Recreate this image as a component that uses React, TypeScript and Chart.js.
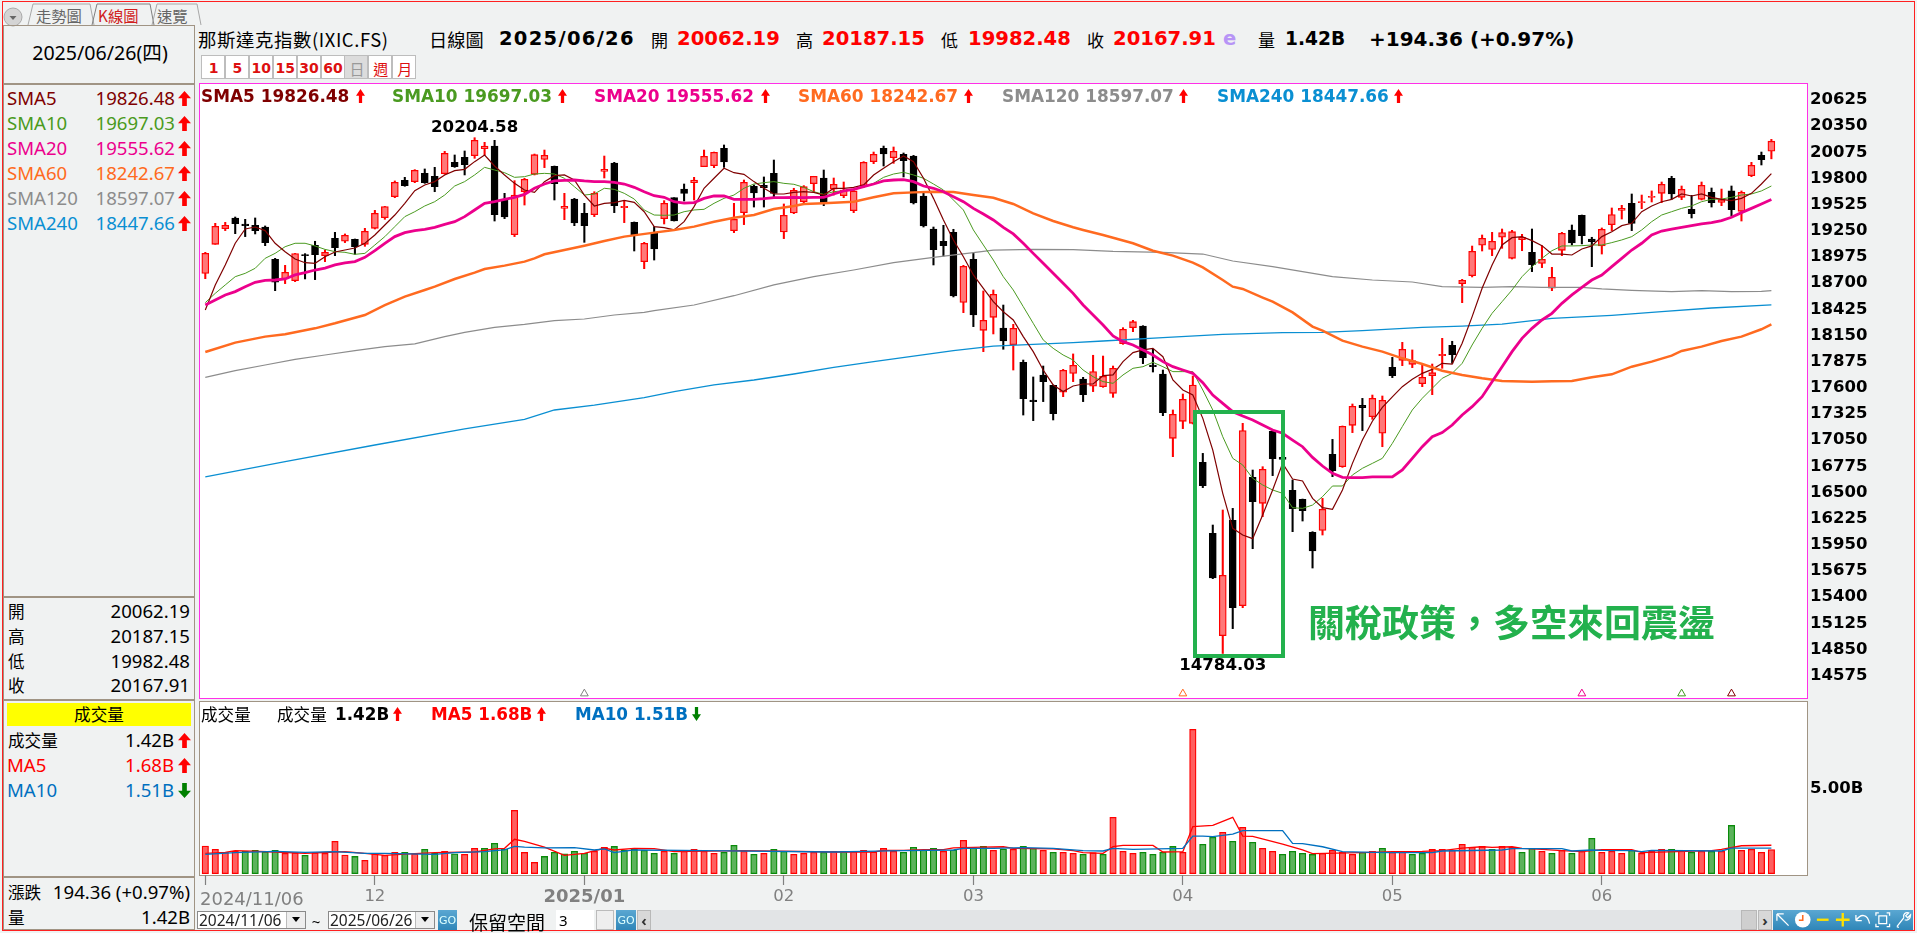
import { useEffect, useRef } from "react";
import { Chart, registerables } from "chart.js";
import type { CSSProperties, ReactNode } from "react";

Chart.register(...registerables);

// daily candles, 2024/11/06 .. 2025/06/26
const candleOpen = [
  18779, 19084, 19249, 19361, 19298, 19284, 19266, 18926, 18720, 18702,
  18975, 19074, 18965, 19147, 19116, 19137, 19084, 19252, 19364, 19585,
  19757, 19743, 19830, 19799, 19827, 19946, 19998, 20016, 20089, 20117,
  19550, 19186, 19637, 19820, 19977, 19904, 19462, 19560, 19410, 19396,
  19851, 19939, 19469, 19315, 18902, 19210, 19354, 19574, 19665, 19732,
  19900, 19911, 20093, 19228, 19417, 19694, 19704, 19830, 19214, 19413,
  19532, 19722, 19781, 19665, 19595, 19438, 19701, 19953, 20093, 19995,
  20030, 20012, 19592, 19245, 19116, 19210, 18474, 18926, 18180, 18317,
  18205, 18030, 17844, 17448, 17711, 17602, 17529, 17728, 17669, 17592,
  17588, 17518, 18040, 18208, 18226, 17816, 17721, 17045, 17224, 17203,
  16793, 16047, 14971, 16183, 15286, 16635, 16362, 17119, 16845, 16498,
  16404, 16057, 16078, 16877, 16747, 17182, 17392, 17273, 17098, 17791,
  17865, 17823, 17620, 17704, 17914, 18023, 18671, 18755, 19074, 19031,
  19158, 18937, 19133, 19000, 18884, 18622, 19021, 19235, 19389, 19140,
  19067, 19291, 19441, 19515, 19522, 19578, 19620, 19778, 19578, 19452,
  19557, 19630, 19525, 19645, 19431, 19806, 20019, 20062.19,
];
const candleHigh = [
  19000, 19305, 19315, 19371, 19347, 19361, 19277, 18937, 18863, 18989,
  18986, 19116, 19024, 19210, 19193, 19140, 19252, 19441, 19483, 19750,
  19788, 19869, 19876, 19893, 20061, 20023, 20065, 20204.58, 20156, 20177,
  19620, 19753, 19778, 20033, 20075, 19907, 19620, 19567, 19515, 19637,
  20012, 19946, 19543, 19319, 19105, 19270, 19543, 19574, 19718, 19788,
  20075, 20054, 20128, 19515, 19760, 19708, 19792, 19970, 19508, 19673,
  19701, 19799, 19865, 19781, 19739, 19655, 19953, 20054, 20117, 20107,
  20044, 20019, 19620, 19266, 19284, 19242, 18863, 18989, 18594, 18604,
  18446, 18243, 17868, 17690, 17805, 17606, 17770, 17932, 17686, 17918,
  17910, 17805, 18208, 18285, 18229, 17981, 17763, 17343, 17511, 17700,
  16887, 16134, 16292, 16309, 17203, 16712, 16747, 17126, 16849, 16607,
  16407, 16064, 16414, 17034, 17175, 17406, 17465, 17500, 17490, 17896,
  18054, 17974, 17812, 17826, 18096, 18065, 18716, 19066, 19182, 19210,
  19245, 19231, 19189, 19245, 19070, 18842, 19210, 19287, 19392, 19158,
  19256, 19466, 19494, 19613, 19602, 19645, 19739, 19799, 19697, 19599,
  19739, 19676, 19665, 19697, 19645, 19946, 20054, 20187.15,
];
const candleLow = [
  18723, 19084, 19228, 19196, 19165, 19193, 19070, 18597, 18671, 18692,
  18720, 18713, 18902, 18965, 19102, 18979, 19063, 19245, 19347, 19574,
  19694, 19732, 19725, 19637, 19820, 19893, 19813, 19988, 20023, 19329,
  19354, 19165, 19497, 19813, 19890, 19550, 19343, 19280, 19105, 19375,
  19781, 19417, 19312, 19014, 18828, 18919, 19298, 19329, 19539, 19550,
  19900, 19890, 19893, 19207, 19291, 19476, 19476, 19567, 19144, 19406,
  19508, 19637, 19490, 19602, 19574, 19417, 19683, 19932, 19907, 19935,
  19792, 19508, 19266, 18867, 18961, 18531, 18366, 18219, 17956, 18142,
  17981, 17763, 17290, 17231, 17431, 17238, 17483, 17641, 17431, 17536,
  17581, 17476, 18033, 18166, 17830, 17742, 17283, 16852, 17147, 17196,
  16527, 15570, 14784.03, 15045, 15265, 15885, 16222, 16653, 16817, 16064,
  16176, 15682, 16029, 16642, 16740, 17105, 17126, 17245, 16957, 17683,
  17809, 17788, 17588, 17504, 17781, 17833, 18471, 18741, 19014, 18965,
  19042, 18930, 19017, 18797, 18839, 18597, 18965, 19077, 19088, 18849,
  18982, 19228, 19350, 19228, 19459, 19529, 19522, 19557, 19553, 19361,
  19550, 19476, 19490, 19382, 19329, 19795, 19918, 19982.48,
];
const candleClose = [
  18989, 19273, 19284, 19301, 19280, 19228, 19102, 18685, 18790, 18986,
  18965, 18975, 19000, 19049, 19179, 19059, 19221, 19410, 19480, 19736,
  19701, 19862, 19732, 19690, 20040, 19900, 19921, 20177, 20117, 19396,
  19371, 19602, 19767, 20026, 20019, 19722, 19483, 19308, 19280, 19620,
  19872, 19490, 19483, 19175, 19095, 19035, 19515, 19329, 19620, 19760,
  20009, 20051, 19949, 19347, 19736, 19623, 19680, 19620, 19389, 19651,
  19690, 19799, 19522, 19715, 19655, 19645, 19946, 20030, 20033, 20061,
  19963, 19518, 19277, 19028, 19070, 18541, 18853, 18341, 18285, 18559,
  18068, 18201, 17462, 17431, 17641, 17304, 17760, 17812, 17504, 17746,
  17697, 17781, 18191, 18271, 17893, 17798, 17315, 17297, 17455, 17605,
  16548, 15577, 15605, 15265, 17126, 16379, 16719, 16831, 16824, 16306,
  16285, 15861, 16299, 16705, 17171, 17381, 17367, 17465, 17444, 17704,
  17981, 17861, 17686, 17735, 17928, 17924, 18706, 19010, 19147, 19116,
  19207, 19217, 19158, 18870, 18926, 18737, 19200, 19098, 19175, 19112,
  19242, 19396, 19462, 19305, 19532, 19588, 19715, 19613, 19662, 19406,
  19704, 19522, 19553, 19448, 19630, 19914, 19974, 20167.91,
];

const sma5 = [
  18394, 18657, 18867, 19095, 19245, 19266, 19228, 19095, 19007, 18930,
  18891, 18884, 18954, 19003, 19024, 19045, 19095, 19182, 19287, 19392,
  19515, 19648, 19708, 19743, 19813, 19858, 19872, 19953, 20023, 19907,
  19813, 19725, 19655, 19630, 19743, 19806, 19813, 19760, 19602, 19487,
  19515, 19522, 19546, 19525, 19427, 19270, 19259, 19235, 19322, 19480,
  19673, 19778, 19883, 19837, 19820, 19743, 19673, 19613, 19613, 19630,
  19637, 19630, 19602, 19673, 19673, 19683, 19708, 19813, 19883, 19953,
  20012, 19953, 19778, 19567, 19340, 19130, 18954, 18762, 18622, 18481,
  18376, 18289, 18114, 17956, 17763, 17606, 17536, 17595, 17616, 17616,
  17704, 17711, 17851, 17946, 17974, 17991, 17903, 17658, 17553, 17501,
  17255, 16922, 16467, 16099, 16029, 15991, 16239, 16502, 16782, 16618,
  16597, 16414, 16316, 16299, 16502, 16782, 17027, 17225, 17370, 17480,
  17588, 17665, 17728, 17770, 17833, 17826, 18044, 18324, 18622, 18867,
  19077, 19154, 19165, 19123, 19070, 18982, 18982, 18972, 19035, 19067,
  19165, 19217, 19280, 19305, 19427, 19487, 19532, 19557, 19613, 19592,
  19613, 19578, 19557, 19543, 19567, 19620, 19718, 19826.48,
];
const sma10 = [
  18471, 18569, 18657, 18744, 18779, 18832, 18937, 18989, 19059, 19095,
  19095, 19067, 19031, 19007, 19000, 18979, 18989, 19077, 19165, 19270,
  19375, 19427, 19487, 19532, 19602, 19697, 19743, 19813, 19893, 19865,
  19837, 19788, 19795, 19823, 19830, 19823, 19778, 19690, 19602, 19613,
  19673, 19662, 19620, 19560, 19445, 19392, 19389, 19392, 19427, 19445,
  19452, 19515, 19567, 19602, 19673, 19718, 19732, 19743, 19725, 19715,
  19683, 19637, 19609, 19637, 19648, 19655, 19690, 19725, 19788, 19823,
  19841, 19813, 19778, 19718, 19655, 19550, 19445, 19235, 19077, 18919,
  18744, 18604, 18429, 18254, 18079, 17991, 17921, 17868, 17763, 17693,
  17641, 17623, 17711, 17781, 17798, 17844, 17798, 17746, 17746, 17746,
  17553, 17343, 17062, 16835, 16765, 16625, 16555, 16502, 16467, 16316,
  16309, 16344, 16432, 16544, 16544, 16660, 16730, 16782, 16835, 16992,
  17168, 17343, 17466, 17571, 17676, 17728, 17833, 18026, 18201, 18359,
  18481, 18604, 18744, 18849, 18937, 19017, 19067, 19067, 19070, 19077,
  19077, 19102, 19130, 19165, 19235, 19322, 19392, 19427, 19462, 19487,
  19532, 19557, 19560, 19578, 19602, 19613, 19645, 19697.03,
];
const sma20 = [
  18446, 18499, 18552, 18587, 18639, 18685, 18706, 18709, 18720, 18762,
  18786, 18814, 18835, 18867, 18888, 18902, 18947, 19017, 19095, 19165,
  19207, 19228, 19242, 19263, 19294, 19322, 19375, 19445, 19515, 19532,
  19557, 19578, 19609, 19673, 19718, 19750, 19757, 19760, 19750, 19743,
  19743, 19736, 19718, 19683, 19637, 19595, 19578, 19532, 19518, 19522,
  19567, 19592, 19592, 19557, 19557, 19557, 19564, 19574, 19574, 19578,
  19574, 19578, 19578, 19613, 19645, 19662, 19690, 19718, 19750, 19760,
  19764, 19743, 19697, 19673, 19637, 19585, 19532, 19462, 19403, 19340,
  19263, 19193, 19095, 18989, 18884, 18779, 18674, 18569, 18446, 18341,
  18236, 18121, 18061, 18026, 17974, 17921, 17851, 17798, 17763, 17728,
  17630, 17500, 17413, 17325, 17280, 17238, 17185, 17133, 17098, 17027,
  16957, 16845, 16754, 16677, 16635, 16632, 16632, 16639, 16639, 16639,
  16712, 16835, 16957, 17062, 17105, 17185, 17290, 17378, 17483, 17640,
  17798, 17956, 18096, 18201, 18289, 18359, 18464, 18552, 18632, 18709,
  18762, 18849, 18937, 19024, 19095, 19182, 19224, 19245, 19263, 19280,
  19298, 19312, 19333, 19368, 19417, 19462, 19508, 19555.62,
];

// the slow averages are smooth, so they are read at every few days only
const sma60Days = [
  0, 3, 6, 8, 11, 13, 16, 18, 20, 22, 23, 25, 27, 28, 30, 32, 33, 34, 36, 38, 40, 42,
  45, 47, 49, 51, 53, 55, 57, 59, 60, 62, 64, 65, 67, 69, 71, 73, 75, 77, 79, 81, 83, 85, 87,
  88, 90, 93, 95, 97, 99, 100, 102, 103, 104, 106, 107, 109, 111, 112, 114, 116, 118, 120, 122, 124, 126, 128,
  130, 133, 135, 137, 139, 141, 143, 145, 147, 148, 150, 152, 154, 156, 157,
];
const sma60 = [
  17952, 18051, 18114, 18138, 18201, 18254, 18341, 18446, 18534, 18604, 18639, 18720, 18786, 18825, 18860, 18902, 18937, 18979, 19024, 19070, 19119, 19165,
  19207, 19235, 19270, 19322, 19364, 19392, 19455, 19487, 19508, 19515, 19525, 19532, 19578, 19620, 19630, 19637, 19634, 19602, 19574, 19508, 19410, 19329, 19263,
  19235, 19182, 19095, 19017, 18965, 18891, 18842, 18709, 18639, 18615, 18524, 18481, 18369, 18219, 18177, 18072, 18009, 17956, 17886, 17826, 17756, 17711, 17676,
  17648, 17641, 17644, 17648, 17686, 17718, 17798, 17851, 17914, 17963, 18009, 18068, 18114, 18191, 18242.67,
];
const sma120Days = [
  0, 3, 6, 9, 12, 15, 18, 21, 24, 26, 29, 32, 35, 38, 41, 44,
  45, 49, 53, 57, 61, 65, 69, 73, 77, 79, 83, 87,
  91, 96, 100, 103, 107, 110, 113, 117, 121, 124, 128,
  131, 134, 138, 140, 143, 147, 150, 153, 156, 157,
];
const sma120 = [
  17686, 17756, 17816, 17875, 17921, 17966, 18009, 18037, 18114, 18159, 18212, 18243, 18282, 18299, 18341, 18369,
  18387, 18446, 18544, 18657, 18744, 18814, 18891, 18947, 18996, 19024, 19031, 19028,
  19010, 19000, 18982, 18909, 18849, 18797, 18744, 18709, 18688, 18639, 18632,
  18639, 18632, 18632, 18615, 18601, 18587, 18597, 18587, 18590, 18597.07,
];
const sma240Days = [
  0, 8, 17, 26, 32, 35, 39, 44,
  47, 51, 55, 59, 63, 67, 71, 75, 79, 83, 87,
  90, 96, 102, 108, 112, 116, 122, 126, 130,
  135, 141, 146, 151, 157,
];
const sma240 = [
  16641, 16800, 16975, 17145, 17245, 17343, 17395, 17473,
  17536, 17606, 17658, 17721, 17791, 17851, 17910, 17966, 18015, 18033, 18051,
  18068, 18103, 18138, 18155, 18159, 18177, 18212, 18225, 18245,
  18306, 18338, 18376, 18415, 18447.66,
];

const volume = [
  1.63, 1.44, 1.26, 1.32, 1.32, 1.38, 1.30, 1.38, 1.20, 1.24,
  1.08, 1.24, 1.20, 1.91, 1.10, 1.02, 0.79, 1.18, 1.08, 1.26,
  1.26, 1.18, 1.44, 1.20, 1.32, 1.18, 1.14, 1.50, 1.50, 1.79,
  1.46, 3.74, 1.26, 0.67, 1.02, 1.26, 1.18, 1.32, 1.20, 1.32,
  1.56, 1.61, 1.40, 1.44, 1.38, 1.20, 1.32, 1.20, 1.32, 1.44,
  1.32, 1.20, 1.26, 1.67, 1.32, 1.14, 1.20, 1.44, 1.32, 1.14,
  1.20, 1.26, 1.26, 1.32, 1.32, 1.32, 1.38, 1.28, 1.50, 1.32,
  1.26, 1.56, 1.40, 1.50, 1.32, 1.40, 1.97, 1.54, 1.61, 1.38,
  1.46, 1.44, 1.61, 1.50, 1.38, 1.26, 1.26, 1.20, 1.14, 1.24,
  1.14, 3.33, 1.32, 1.20, 1.26, 1.14, 1.26, 1.61, 1.26, 8.52,
  1.73, 2.15, 2.44, 1.91, 2.74, 1.85, 1.50, 1.32, 1.14, 1.32,
  1.20, 1.14, 1.20, 1.38, 1.26, 1.14, 1.26, 1.32, 1.50, 1.26,
  1.32, 1.14, 1.20, 1.44, 1.44, 1.38, 1.73, 1.56, 1.61, 1.44,
  1.61, 1.56, 1.26, 1.50, 1.32, 1.20, 1.38, 1.20, 1.32, 2.09,
  1.26, 1.32, 1.20, 1.38, 1.20, 1.32, 1.44, 1.44, 1.38, 1.26,
  1.32, 1.32, 1.32, 2.85, 1.38, 1.44, 1.26, 1.42,
];
// 1 = red volume bar, 0 = green
const volumeUp = [
  1, 1, 1, 1, 0, 0, 0, 0, 1, 1,
  0, 1, 1, 1, 1, 0, 1, 1, 1, 1,
  0, 1, 0, 0, 1, 0, 1, 1, 0, 0,
  0, 1, 1, 1, 0, 0, 0, 0, 0, 1,
  1, 0, 0, 0, 0, 0, 1, 0, 1, 1,
  1, 1, 0, 0, 1, 0, 1, 0, 0, 1,
  1, 1, 0, 1, 0, 1, 1, 1, 1, 1,
  0, 0, 0, 0, 1, 0, 1, 0, 0, 1,
  0, 1, 0, 0, 1, 0, 1, 1, 0, 1,
  0, 1, 1, 1, 0, 0, 0, 0, 1, 1,
  0, 0, 1, 0, 1, 0, 1, 1, 0, 0,
  0, 0, 1, 1, 1, 1, 0, 1, 0, 1,
  1, 0, 0, 1, 1, 1, 1, 1, 1, 0,
  1, 1, 0, 0, 1, 0, 1, 0, 1, 0,
  1, 1, 1, 0, 1, 1, 1, 0, 1, 0,
  1, 0, 1, 0, 1, 1, 1, 1,
];
const volMa5Days = [
  0, 2, 3, 7, 10, 13, 14, 16, 18, 20, 23, 27, 29, 30, 31, 32, 34, 36, 38, 40, 41, 43, 45, 47, 54,
  63, 67, 68, 70, 72, 74, 75, 78, 80, 81, 85, 87, 88, 90, 91, 92, 95, 96, 98, 99, 101, 103, 104, 105, 108, 110, 111, 117,
  119, 122, 124, 126, 128, 129, 131, 132, 134, 136, 138, 140, 143, 144, 151, 152, 154, 157,
];
const volMa5 = [
  1.20, 1.26, 1.36, 1.28, 1.20, 1.28, 1.30, 1.20, 1.08, 1.16, 1.24, 1.28, 1.46, 1.50, 2.03, 1.91, 1.57, 1.08, 1.20, 1.50, 1.40, 1.50, 1.48, 1.30, 1.36,
  1.28, 1.28, 1.38, 1.38, 1.42, 1.42, 1.52, 1.57, 1.59, 1.50, 1.46, 1.36, 1.24, 1.20, 1.60, 1.67, 1.67, 1.28, 1.30, 2.78, 2.85, 3.33, 2.22, 2.20, 1.75, 1.40, 1.18, 1.26,
  1.30, 1.32, 1.36, 1.51, 1.59, 1.55, 1.59, 1.50, 1.44, 1.36, 1.30, 1.42, 1.42, 1.24, 1.36, 1.44, 1.65, 1.68,
];
const volMa10Days = [
  0, 3, 7, 10, 13, 16, 18, 23, 25, 28, 29, 30, 31, 32, 34, 37, 39, 40, 41, 43, 50,
  63, 66, 70, 75, 76, 79, 82, 85, 88, 90, 91, 93, 98, 99, 100, 101, 103, 104, 108, 109, 110, 112, 114, 117,
  119, 123, 124, 130, 131, 136, 137, 139, 140, 143, 144, 145, 152, 153, 157,
];
const volMa10 = [
  1.14, 1.24, 1.32, 1.26, 1.30, 1.20, 1.20, 1.14, 1.24, 1.30, 1.36, 1.40, 1.61, 1.57, 1.52, 1.54, 1.40, 1.46, 1.24, 1.40, 1.36,
  1.28, 1.32, 1.36, 1.40, 1.50, 1.50, 1.54, 1.50, 1.36, 1.34, 1.50, 1.44, 1.50, 2.22, 2.22, 2.19, 2.34, 2.54, 2.54, 1.79, 1.77, 1.59, 1.30, 1.26,
  1.24, 1.24, 1.34, 1.40, 1.48, 1.48, 1.34, 1.40, 1.38, 1.36, 1.30, 1.38, 1.34, 1.51, 1.51,
];

const priceTicks = [20625, 20350, 20075, 19800, 19525, 19250, 18975, 18700, 18425, 18150, 17875, 17600, 17325, 17050, 16775, 16500, 16225, 15950, 15675, 15400, 15125, 14850, 14575];
const volumeTicks = [5];
const monthTickDays = [0, 17, 38, 58, 77, 98, 119, 140];
const monthTickLabels = ["", "12", "2025/01", "02", "03", "04", "05", "06"];

// cross markers sitting on the bottom edge of the price pane
const crossDays = [38, 98, 138, 148, 153];
const crossPrice = [14362, 14362, 14362, 14362, 14362];
const crossColors = ["#808080", "#ff6a20", "#ec008c", "#3f9a1f", "#7f0000"];

const smaNames = ["SMA5", "SMA10", "SMA20", "SMA60", "SMA120", "SMA240"];
const smaLast = ["19826.48", "19697.03", "19555.62", "18242.67", "18597.07", "18447.66"];
const smaColors = ["#7f0000", "#4a9a20", "#ec008c", "#ff6a20", "#8c8c8c", "#0a8fd2"];

const xMin = -0.531;
const xMax = 160.57;
const latin = '"Noto Sans", "Noto Sans CJK TC", sans-serif';
const cjk = '"Noto Sans CJK TC", "Noto Sans", sans-serif';
const boldFace = '"DejaVu Sans", sans-serif';

function pairs(days: number[], values: number[]) {
  return days.map((d, i) => ({ x: d, y: values[i] }));
}
function daily(values: number[]) {
  return values.map((v, i) => ({ x: i, y: v }));
}
function smaLine(data: { x: number; y: number }[], color: string, width: number, order: number) {
  return {
    type: "line" as const,
    data,
    borderColor: color,
    borderWidth: width,
    pointRadius: 0,
    tension: 0,
    order,
  };
}

// axis labels may hang over the pane, the chart area must stay the full canvas height
function noScalePadding(scale: any) {
  scale.paddingTop = 0;
  scale.paddingBottom = 0;
  scale.paddingLeft = 0;
  scale.paddingRight = 0;
}

const extremeLabels = {
  id: "extremeLabels",
  afterDatasetsDraw(chart: any) {
    const { ctx, scales } = chart;
    const high = Math.max(...candleHigh);
    const low = Math.min(...candleLow);
    ctx.save();
    ctx.font = 'bold 16.6px "DejaVu Sans"';
    ctx.fillStyle = "#000";
    ctx.textAlign = "center";
    ctx.textBaseline = "bottom";
    ctx.fillText(high.toFixed(2), scales.x.getPixelForValue(candleHigh.indexOf(high)), scales.y.getPixelForValue(high) - 2);
    ctx.textBaseline = "top";
    ctx.fillText(low.toFixed(2), scales.x.getPixelForValue(candleLow.indexOf(low)), scales.y.getPixelForValue(low) + 4);
    ctx.restore();
  },
};

function PriceChart() {
  const canvasRef = useRef<HTMLCanvasElement>(null);
  useEffect(() => {
    if (!canvasRef.current) return;
    const isUp = (i: number) => candleClose[i] > candleOpen[i];
    const chart = new Chart(canvasRef.current, {
      type: "bar",
      data: {
        datasets: [
          smaLine(daily(sma5), smaColors[0], 1.2, 4),
          smaLine(daily(sma10), smaColors[1], 1, 5),
          smaLine(daily(sma20), smaColors[2], 2.8, 1),
          smaLine(pairs(sma60Days, sma60), smaColors[3], 2.5, 2),
          smaLine(pairs(sma120Days, sma120), smaColors[4], 1.2, 6),
          smaLine(pairs(sma240Days, sma240), smaColors[5], 1.3, 7),
          {
            type: "scatter" as const,
            data: pairs(crossDays, crossPrice),
            pointStyle: "triangle",
            pointRadius: 4.5,
            pointBackgroundColor: "rgba(255,255,255,0)",
            pointBorderColor: crossColors,
            pointBorderWidth: 1,
            order: 8,
          },
          {
            data: candleOpen.map((o, i) => ({ x: i, y: [o, candleClose[i]] })),
            backgroundColor: candleOpen.map((_, i) => (isUp(i) ? "#ff7878" : "#000")),
            borderColor: candleOpen.map((_, i) => (isUp(i) ? "#ff0000" : "#000")),
            borderWidth: 1.3,
            borderSkipped: false,
            barThickness: 7,
            grouped: false,
            order: 19,
          },
          {
            data: candleHigh.map((h, i) => ({ x: i, y: [candleLow[i], h] })),
            backgroundColor: candleOpen.map((_, i) => (isUp(i) ? "#ff0000" : "#000")),
            barThickness: 1.4,
            grouped: false,
            order: 20,
          },
        ] as any,
      },
      options: {
        responsive: false,
        animation: false,
        devicePixelRatio: 1,
        events: [],
        layout: { padding: 0, autoPadding: false },
        plugins: { legend: { display: false }, tooltip: { enabled: false } },
        scales: {
          x: { type: "linear", offset: false, min: xMin, max: xMax, display: false, grid: { display: false } },
          y: {
            type: "linear",
            position: "right",
            min: 14316,
            max: 20769,
            grid: { display: false, drawTicks: false },
            border: { display: false },
            afterBuildTicks(scale: any) {
              scale.ticks = priceTicks.map((value) => ({ value }));
            },
            afterFit(scale: any) {
              scale.width = 110;
              noScalePadding(scale);
            },
            ticks: {
              autoSkip: false,
              padding: 3,
              labelOffset: 2.2,
              color: "#000",
              font: { family: "DejaVu Sans", weight: "bold", size: 16.5 },
              callback: (v: any) => String(v),
            },
          },
        },
      } as any,
      plugins: [extremeLabels],
    });
    return () => chart.destroy();
  }, []);
  return (
    <canvas
      ref={canvasRef}
      width={1717}
      height={614}
      style={{ position: "absolute", left: 200, top: 84, width: 1717, height: 614 }}
    />
  );
}

function VolumeChart() {
  const canvasRef = useRef<HTMLCanvasElement>(null);
  useEffect(() => {
    if (!canvasRef.current) return;
    const chart = new Chart(canvasRef.current, {
      type: "bar",
      data: {
        datasets: [
          smaLine(pairs(volMa10Days, volMa10), "#0070c0", 1.3, 1),
          smaLine(pairs(volMa5Days, volMa5), "#ff0000", 1.3, 2),
          {
            data: daily(volume),
            backgroundColor: volumeUp.map((u) => (u ? "#ff5f5f" : "#5cb35c")),
            borderColor: volumeUp.map((u) => (u ? "#ff0000" : "#0a8a0a")),
            borderWidth: 1.3,
            borderSkipped: false,
            barThickness: 6.5,
            grouped: false,
            order: 5,
          },
        ] as any,
      },
      options: {
        responsive: false,
        animation: false,
        devicePixelRatio: 1,
        events: [],
        layout: { padding: 0, autoPadding: false },
        plugins: { legend: { display: false }, tooltip: { enabled: false } },
        scales: {
          x: {
            type: "linear",
            offset: false,
            min: xMin,
            max: xMax,
            grid: { offset: false, drawOnChartArea: false, drawTicks: true, tickLength: 10, tickColor: "#808080", tickWidth: 1.2 },
            border: { display: false },
            afterBuildTicks(scale: any) {
              scale.ticks = monthTickDays.map((value) => ({ value }));
            },
            afterFit(scale: any) {
              scale.height = 32;
              noScalePadding(scale);
            },
            ticks: {
              autoSkip: false,
              maxRotation: 0,
              padding: 2,
              color: "#808080",
              font: (c: any) =>
                c.tick && c.tick.value === 38
                  ? { family: "DejaVu Sans", weight: "bold", size: 18 }
                  : { family: "DejaVu Sans", size: 16.5 },
              callback: (v: any) => monthTickLabels[monthTickDays.indexOf(v)],
            },
          },
          y: {
            type: "linear",
            position: "right",
            min: -0.077,
            max: 10.135,
            grid: { display: false, drawTicks: false },
            border: { display: false },
            afterBuildTicks(scale: any) {
              scale.ticks = volumeTicks.map((value) => ({ value }));
            },
            afterFit(scale: any) {
              scale.width = 110;
              noScalePadding(scale);
            },
            ticks: {
              autoSkip: false,
              padding: 3,
              color: "#000",
              font: { family: "DejaVu Sans", weight: "bold", size: 16.5 },
              callback: (v: any) => Number(v).toFixed(2) + "B",
            },
          },
        },
      } as any,
    });
    return () => chart.destroy();
  }, []);
  return (
    <canvas
      ref={canvasRef}
      width={1717}
      height={205}
      style={{ position: "absolute", left: 200, top: 702, width: 1717, height: 205 }}
    />
  );
}

// text placed by its left (or right / centre) edge and its vertical middle
function T(props: { x: number; y: number; align?: "l" | "r" | "c"; size?: number; color?: string; font?: string; weight?: number; spacing?: number; children: ReactNode }) {
  const { x, y, align = "l", size = 18.6, color = "#000", font = latin, weight = 400, spacing, children } = props;
  const tx = align === "l" ? "0" : align === "r" ? "-100%" : "-50%";
  return (
    <span
      style={{
        position: "absolute",
        left: x,
        top: y,
        transform: `translate(${tx}, -50%)`,
        font: `${weight} ${size}px/1 ${font}`,
        letterSpacing: spacing,
        color,
        whiteSpace: "nowrap",
      }}
    >
      {children}
    </span>
  );
}

function Arrow({ x, y, w = 13, h = 15, up = true, color = "#ff0000" }: { x: number; y: number; w?: number; h?: number; up?: boolean; color?: string }) {
  const pts = up ? "50,0 100,48 68,48 68,100 32,100 32,48 0,48" : "32,0 68,0 68,52 100,52 50,100 0,52 32,52";
  return (
    <svg viewBox="0 0 100 100" preserveAspectRatio="none" style={{ position: "absolute", left: x, top: y - h / 2, width: w, height: h }}>
      <polygon points={pts} fill={color} />
    </svg>
  );
}

function Box({ style, children }: { style: CSSProperties; children?: ReactNode }) {
  return <div style={{ position: "absolute", boxSizing: "border-box", ...style }}>{children}</div>;
}

function HLine({ x, w, y, h = 1, color = "#a09484" }: { x: number; w: number; y: number; h?: number; color?: string }) {
  return <Box style={{ left: x, top: y, width: w, height: h, background: color }} />;
}

function Combo({ x, w, text }: { x: number; w: number; text: string }) {
  return (
    <Box style={{ left: x, top: 911, width: w, height: 18, background: "#fff", border: "1px solid #8a8a8a", overflow: "hidden" }}>
      <T x={1} y={9} size={15.5} font={latin} color="#222">{text}</T>
      <Box style={{ right: 0, top: 0, width: 19, height: 16, background: "#eee", borderLeft: "1px solid #bbb" }}>
        <span style={{ position: "absolute", left: 5, top: 5, width: 0, height: 0, borderLeft: "4px solid transparent", borderRight: "4px solid transparent", borderTop: "5px solid #000" }} />
      </Box>
    </Box>
  );
}

function BlueButton({ x, w, children }: { x: number; w: number; children?: ReactNode }) {
  return (
    <Box style={{ left: x, top: 910, width: w, height: 20, background: "linear-gradient(#5aa7d2,#2f86b8)", overflow: "hidden" }}>{children}</Box>
  );
}

export default function App() {
  const rangeButtons = ["1", "5", "10", "15", "30", "60", "日", "週", "月"];
  const smaRowsY = [98, 123, 148, 173, 198, 223];
  const legendX = [201, 392, 594, 798, 1002, 1217];
  const legendArrowX = [356, 558, 761, 964, 1179, 1394];
  const tools = [1773, 1793, 1813, 1833, 1853, 1873, 1893];
  return (
    <div style={{ position: "fixed", left: 0, top: 0, width: 1917, height: 933, background: "#f0f2f2", overflow: "hidden" }}>
      {/* window outline */}
      <Box style={{ left: 2, top: 1, width: 1913, height: 930, border: "1px solid #ff2020" }} />

      {/* tabs */}
      <svg style={{ position: "absolute", left: 0, top: 0, width: 210, height: 30 }}>
        <circle cx="13" cy="17" r="9" fill="#d4d4d4" stroke="#aaa" />
        <path d="M9.5 16 L16.5 16 L13 20 Z" fill="#666" />
        <path d="M28 25 L33 4 L90 4 L94 25" fill="none" stroke="#a8a8a8" />
        <path d="M92 25 L97 4 L150 4 L154 25" fill="none" stroke="#808080" />
        <path d="M152 25 L157 4 L197 4 L201 25" fill="none" stroke="#a8a8a8" />
      </svg>
      <T x={36} y={16} size={15.3} font={cjk} color="#666">走勢圖</T>
      <T x={98} y={16} size={15.3} font={cjk} color="#d02020">K線圖</T>
      <T x={157} y={16} size={15.3} font={cjk} color="#666">速覽</T>

      {/* left panel */}
      <Box style={{ left: 3, top: 25, width: 192, height: 905, border: "1px solid #a09484" }} />
      <HLine x={4} w={190} y={83} h={2} />
      <HLine x={4} w={190} y={596} h={2} />
      <HLine x={4} w={190} y={699} h={2} />
      <HLine x={4} w={190} y={876} h={2} />
      <T x={100} y={53} align="c" size={19.6}>2025/06/26(四)</T>
      {smaNames.map((name, i) => (
        <span key={name}>
          <T x={7} y={smaRowsY[i]} color={smaColors[i]}>{name}</T>
          <T x={175} y={smaRowsY[i]} align="r" color={smaColors[i]}>{smaLast[i]}</T>
          <Arrow x={178} y={smaRowsY[i]} />
        </span>
      ))}
      <T x={8} y={611} font={cjk} size={16.6}>開</T>
      <T x={190} y={611} align="r">20062.19</T>
      <T x={8} y={636} font={cjk} size={16.6}>高</T>
      <T x={190} y={636} align="r">20187.15</T>
      <T x={8} y={661} font={cjk} size={16.6}>低</T>
      <T x={190} y={661} align="r">19982.48</T>
      <T x={8} y={685} font={cjk} size={16.6}>收</T>
      <T x={190} y={685} align="r">20167.91</T>
      <Box style={{ left: 7, top: 703, width: 184, height: 23, background: "#ffff00" }} />
      <T x={99} y={714} align="c" font={cjk} size={16.6}>成交量</T>
      <T x={8} y={740} font={cjk} size={16.6}>成交量</T>
      <T x={174} y={740} align="r">1.42B</T>
      <Arrow x={178} y={740} />
      <T x={7} y={765} color="#ff0000">MA5</T>
      <T x={174} y={765} align="r" color="#ff0000">1.68B</T>
      <Arrow x={178} y={765} />
      <T x={7} y={790} color="#0070c0">MA10</T>
      <T x={174} y={790} align="r" color="#0070c0">1.51B</T>
      <Arrow x={178} y={790} up={false} color="#008000" />
      <T x={8} y={892} font={cjk} size={16.6}>漲跌</T>
      <T x={190} y={892} align="r">194.36 (+0.97%)</T>
      <T x={8} y={917} font={cjk} size={16.6}>量</T>
      <T x={190} y={917} align="r">1.42B</T>

      {/* header row */}
      <T x={198} y={39} font={cjk} size={18.4} spacing={0.6}>那斯達克指數(IXIC.FS)</T>
      <T x={429} y={39} font={cjk} size={18.2}>日線圖</T>
      <T x={499} y={39} font={boldFace} weight={700} size={19.5} spacing={1.3}>2025/06/26</T>
      <T x={651} y={39} font={cjk} size={17}>開</T>
      <T x={677} y={39} font={boldFace} weight={700} size={19.6} color="#ff0000">20062.19</T>
      <T x={796} y={39} font={cjk} size={17}>高</T>
      <T x={822} y={39} font={boldFace} weight={700} size={19.6} color="#ff0000">20187.15</T>
      <T x={941} y={39} font={cjk} size={17}>低</T>
      <T x={968} y={39} font={boldFace} weight={700} size={19.6} color="#ff0000">19982.48</T>
      <T x={1087} y={39} font={cjk} size={17}>收</T>
      <T x={1113} y={39} font={boldFace} weight={700} size={19.6} color="#ff0000">20167.91</T>
      <T x={1223} y={39} font={boldFace} weight={700} size={19.6} color="#b794f6">e</T>
      <T x={1258} y={39} font={cjk} size={17}>量</T>
      <T x={1285} y={39} font={boldFace} weight={700} size={18.6}>1.42B</T>
      <T x={1369} y={39} font={boldFace} weight={700} size={20}>+194.36 (+0.97%)</T>

      {/* period buttons */}
      {rangeButtons.map((label, i) => (
        <Box
          key={label}
          style={{
            left: 201 + i * 23.9,
            top: 55,
            width: 24,
            height: 24,
            border: "1px solid #bdbdbd",
            background: label === "日" ? "#dcdcdc" : "#fff",
          }}
        >
          <T x={11.5} y={11.5} align="c" font={i < 6 ? boldFace : cjk} weight={i < 6 ? 700 : 400} size={i < 6 ? 14 : 15} color={label === "日" ? "#999" : "#dd1010"}>
            {label}
          </T>
        </Box>
      ))}

      {/* price pane */}
      <Box style={{ left: 199, top: 83, width: 1608.5, height: 616, background: "#fff", border: "1px solid #ff30e8" }} />
      <PriceChart />
      {smaNames.map((name, i) => (
        <span key={name}>
          <T x={legendX[i]} y={96} font={boldFace} weight={700} size={16.9} color={smaColors[i]}>{name + " " + smaLast[i]}</T>
          <Arrow x={legendArrowX[i]} y={96} w={9} h={14} />
        </span>
      ))}
      {/* tariff box and note drawn by hand on the original screenshot */}
      <Box style={{ left: 1192.5, top: 410, width: 92.5, height: 248, border: "4.5px solid #23b14d" }} />
      <T x={1308} y={621} font={cjk} size={37} color="#23b14d" weight={700}>關稅政策，多空來回震盪</T>

      {/* volume pane */}
      <Box style={{ left: 199, top: 701, width: 1608.5, height: 175, background: "#fff", border: "1px solid #a09484" }} />
      <VolumeChart />
      <T x={201} y={714} font={cjk} size={16.6}>成交量</T>
      <T x={277} y={714} font={cjk} size={16.6}>成交量</T>
      <T x={335} y={714} font={boldFace} weight={700} size={16.8}>1.42B</T>
      <Arrow x={393} y={714} w={9} h={14} />
      <T x={431} y={714} font={boldFace} weight={700} size={16.8} color="#ff0000">MA5 1.68B</T>
      <Arrow x={537} y={714} w={9} h={14} />
      <T x={575} y={714} font={boldFace} weight={700} size={16.8} color="#0070c0">MA10 1.51B</T>
      <Arrow x={692} y={714} w={9} h={14} up={false} color="#008000" />
      <T x={200} y={899} size={18} font={boldFace} color="#808080">2024/11/06</T>

      {/* bottom controls */}
      <Combo x={197} w={109} text="2024/11/06" />
      <T x={316} y={921} align="c" size={15}>~</T>
      <Combo x={328} w={107} text="2025/06/26" />
      <BlueButton x={438} w={19}><T x={9.5} y={10} align="c" size={11} color="#dff" font={boldFace}>GO</T></BlueButton>
      <T x={469} y={921} font={cjk} size={19}>保留空間</T>
      <Box style={{ left: 556, top: 910, width: 38, height: 20, background: "#fff" }} />
      <T x={559} y={920} size={15}>3</T>
      <Box style={{ left: 596, top: 910, width: 18, height: 20, background: "#eee", border: "1px solid #bbb" }} />
      <BlueButton x={616} w={20}><T x={10} y={10} align="c" size={11} color="#dff" font={boldFace}>GO</T></BlueButton>
      <Box style={{ left: 637, top: 910, width: 14, height: 20, background: "#d8d8d8", border: "1px solid #b8b8b8" }}>
        <T x={6} y={8.5} align="c" size={15} weight={700} color="#333">‹</T>
      </Box>
      <Box style={{ left: 651, top: 910, width: 1090, height: 20, background: "#e2e4e6" }} />
      <Box style={{ left: 1741, top: 910, width: 16, height: 20, background: "#cfcfcf", border: "1px solid #b8b8b8" }} />
      <Box style={{ left: 1758, top: 910, width: 14, height: 20, background: "#d8d8d8", border: "1px solid #b8b8b8" }}>
        <T x={6} y={8.5} align="c" size={15} weight={700} color="#333">›</T>
      </Box>
      {tools.map((x, i) => (
        <Box key={x} style={{ left: x, top: 910, width: 19.5, height: 20, background: "linear-gradient(#5aa7d2,#2f86b8)" }}>
          <svg viewBox="0 0 20 20" style={{ position: "absolute", inset: 0 }} fill="none" stroke="#fff" strokeWidth={1.3}>
            {i === 0 && <path d="M4 4 L16 16 M4 4 L4 11 M4 4 L11 4" />}
            {i === 1 && <>
              <circle cx="10" cy="10" r="8" fill="#fff" stroke="none" />
              <path d="M10 5 L10 10.5 L6 10.5" stroke="#ff6a20" strokeWidth={1.6} />
            </>}
            {i === 2 && <path d="M4 10 L16 10" stroke="#ffe000" strokeWidth={2.4} />}
            {i === 3 && <path d="M3 10 L17 10 M10 3 L10 17" stroke="#ffe000" strokeWidth={2.4} />}
            {i === 4 && <path d="M3 11 L3 5 M3 11 L9 11 M3 11 C8 3 15 4 17 14" />}
            {i === 5 && <path d="M3 6 L3 3 L6 3 M14 3 L17 3 L17 6 M17 14 L17 17 L14 17 M6 17 L3 17 L3 14 M6 6 L14 6 L14 14 L6 14 Z" />}
            {i === 6 && <path d="M4 17 L11 8 M11 8 C10 4 13 2 16 3 L13 6 L15 8 L18 5 C18 9 15 11 12 10 M4 17 L6 18" />}
          </svg>
        </Box>
      ))}
    </div>
  );
}
